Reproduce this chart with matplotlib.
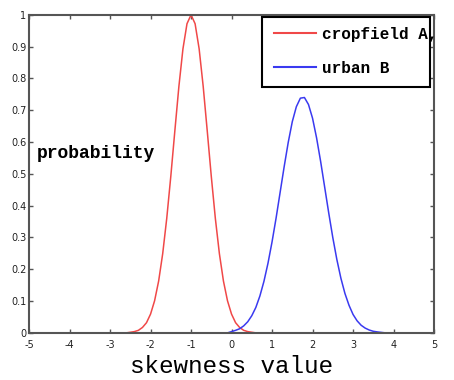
import numpy as np
from matplotlib import pyplot as plt
from matplotlib.patches import Rectangle

# values (probability vs skewness value)
crop_x = [-5.0, -2.6, -2.5, -2.4, -2.3, -2.2, -2.1, -2.0, -1.9, -1.8, -1.7, -1.6,
          -1.5, -1.4, -1.3, -1.2, -1.1, -1.0, -0.9, -0.8, -0.7, -0.6, -0.5,
          -0.4, -0.3, -0.2, -0.1, 0.0, 0.1, 0.2, 0.3, 0.4, 0.5, 0.6, 5.0]
crop_y = [0.0, 0.0, 0.002, 0.004, 0.008, 0.017, 0.032, 0.059, 0.101, 0.163, 0.249, 0.360,
          0.492, 0.635, 0.775, 0.893, 0.972, 1.0, 0.972, 0.893, 0.775, 0.635, 0.492,
          0.360, 0.249, 0.163, 0.101, 0.059, 0.032, 0.017, 0.008, 0.004, 0.002, 0.0, 0.0]

urban_x = [-5.0, -0.1, 0.0, 0.1, 0.2, 0.3, 0.4, 0.5, 0.6, 0.7, 0.8, 0.9, 1.0,
           1.1, 1.2, 1.3, 1.4, 1.5, 1.6, 1.7, 1.8, 1.9, 2.0, 2.1, 2.2,
           2.3, 2.4, 2.5, 2.6, 2.7, 2.8, 2.9, 3.0, 3.1, 3.2, 3.3, 3.4,
           3.5, 3.6, 3.7, 3.8, 5.0]
urban_y = [0.0, 0.0, 0.004, 0.008, 0.013, 0.022, 0.035, 0.054, 0.080, 0.116, 0.162, 0.219, 0.286,
           0.361, 0.442, 0.523, 0.599, 0.664, 0.711, 0.738, 0.740, 0.718, 0.675, 0.613, 0.539,
           0.458, 0.377, 0.300, 0.231, 0.172, 0.124, 0.087, 0.058, 0.038, 0.024, 0.015, 0.009,
           0.005, 0.003, 0.0015, 0.0, 0.0]

labels = ["cropfield A,", "urban B"]
xticks = [-5, -4, -3, -2, -1, 0, 1, 2, 3, 4, 5]
yticks = [0, 0.1, 0.2, 0.3, 0.4, 0.5, 0.6, 0.7, 0.8, 0.9, 1]
ytick_labels = ["0", "0.1", "0.2", "0.3", "0.4", "0.5", "0.6", "0.7", "0.8", "0.9", "1"]

fig = plt.figure(figsize=(4.54, 3.80), dpi=100)
ax = fig.add_axes([0.064, 0.124, 0.892, 0.837])

l1, = ax.plot(crop_x, crop_y, color="#f04848", lw=1.1)
l2, = ax.plot(urban_x, urban_y, color="#3a3af0", lw=1.1)

ax.set_xlim(-5, 5)
ax.set_ylim(0, 1)
ax.set_xticks(xticks)
ax.set_xticklabels([str(t) for t in xticks])
ax.set_yticks(yticks)
ax.set_yticklabels(ytick_labels)
ax.tick_params(direction="in", length=3, width=1, colors="#555555",
               labelsize=7, labelcolor="#222222", top=True, right=True, pad=2)
ax.tick_params(axis="x", pad=5)
for s in ax.spines.values():
    s.set_color("#555555")
    s.set_linewidth(1.5)

ax.text(-4.8, 0.565, "probability", family="Liberation Mono", weight="bold",
        fontsize=13, va="center", ha="left")
ax.set_xlabel("skewness value", family="Liberation Mono", fontsize=17.5, labelpad=4)

# legend box drawn by hand, the text runs past it as in the reference
ax.add_patch(Rectangle((0.575, 0.774), 0.415, 0.22, transform=ax.transAxes,
                       fill=True, facecolor="white", edgecolor="black", lw=1.5, zorder=4))
leg = ax.legend([l1, l2], labels, loc="upper left", bbox_to_anchor=(0.605, 0.962),
                frameon=False, borderpad=0, borderaxespad=0, handlelength=2.6,
                handletextpad=0.4, labelspacing=1.2,
                prop={"family": "Liberation Mono", "weight": "bold", "size": 11.5})
leg.set_zorder(5)
for ln in leg.get_lines():
    ln.set_linewidth(1.5)

fig.savefig("out.png", dpi=100)
